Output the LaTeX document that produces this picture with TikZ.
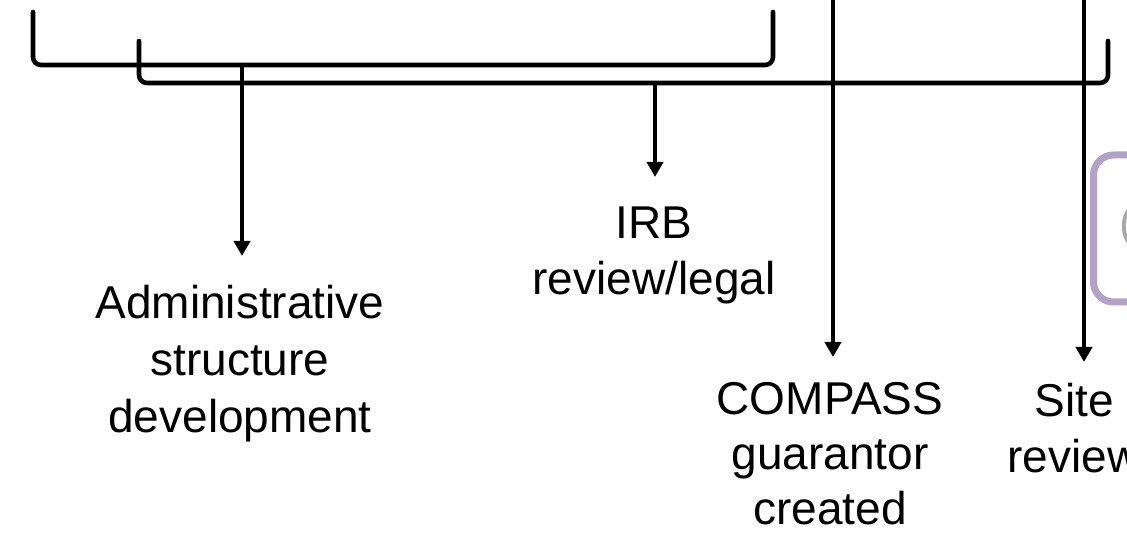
\documentclass[tikz,border=0pt]{standalone}
\usepackage{fontspec}
\setmainfont{Liberation Sans}
\usetikzlibrary{arrows.meta}
\definecolor{lav}{HTML}{B3A2C7}
\definecolor{fadegray}{HTML}{A8A8A8}
\begin{document}
\begin{tikzpicture}[x=1pt,y=-1pt,
  bracketline/.style={draw=black,line width=4.6pt,rounded corners=8pt,line cap=round},
  arr/.style={draw=black,line width=4.6pt,-{Triangle[width=16pt,length=15pt]}},
  lbl/.style={font=\fontsize{46}{56}\selectfont,align=center,inner sep=0pt,anchor=base},
  purplebox/.style={draw=lav,line width=7pt,rounded corners=20pt,fill=white}]
\useasboundingbox (0,0) rectangle (1127,534);
\clip (0,0) rectangle (1127,534);
\fill[white] (0,0) rectangle (1127,534);
% purple box (partly outside the picture)
\draw[purplebox] (1093.5,155) rectangle (1220,302);
\node[font=\fontsize{46}{56}\selectfont,inner sep=0pt,anchor=base west,text=fadegray] (boxtext) at (1119,239) {(};
% brackets
\draw[bracketline] (33,12) -- (33,65) -- (773,65) -- (773,12);
\draw[bracketline] (139,41) -- (139,83) -- (1108,83) -- (1108,41);
% coordinates
\coordinate (b1) at (242,65);
\coordinate (t1) at (242,256);
\coordinate (b2) at (655,83);
\coordinate (t2) at (655,177);
\coordinate (top3) at (833,-10);
\coordinate (t3) at (833,357);
\coordinate (top4) at (1084,-10);
\coordinate (t4) at (1084,362);
% arrows
\draw[arr] (b1) -- (t1);
\draw[arr] (b2) -- (t2);
\draw[arr] (top3) -- (t3);
\draw[arr] (top4) -- (t4);
% labels (anchor = baseline of the last line)
\node[lbl,font=\fontsize{46}{57}\selectfont] (admin) at (240,432) {Administrative\\structure\\development};
\node[lbl] (irb) at (654,295) {IRB\\review/legal};
\node[lbl,font=\fontsize{46}{55}\selectfont] (compass) at (830,524) {COMPASS\\guarantor\\created};
\node[lbl] (site) at (1074,472) {Site\\review};
\end{tikzpicture}
\end{document}
